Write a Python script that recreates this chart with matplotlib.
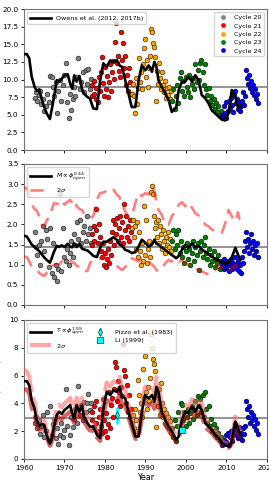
import matplotlib
matplotlib.use("Agg")
import matplotlib.pyplot as plt

# ---- model curves ----
line_years = [1960.0, 1960.7, 1961.3, 1961.9, 1962.6, 1963.1, 1963.8, 1964.4, 1965.0, 1965.6,
              1966.4, 1966.8, 1967.4, 1968.1, 1968.7, 1969.3, 1970.0, 1970.8, 1971.4, 1971.9,
              1972.4, 1973.0, 1973.7, 1974.3, 1974.8, 1975.7, 1976.3, 1977.1, 1978.0, 1978.8,
              1979.6, 1980.4, 1981.3, 1982.1, 1982.9, 1983.6, 1984.2, 1985.0, 1985.8, 1986.6,
              1987.5, 1988.3, 1989.1, 1989.9, 1990.8, 1991.6, 1992.2, 1992.7, 1993.2, 1994.0,
              1994.9, 1995.7, 1996.5, 1997.6, 1998.2, 1999.0, 1999.8, 2000.6, 2001.5, 2002.3,
              2003.1, 2003.9, 2004.8, 2005.6, 2006.4, 2007.2, 2008.1, 2008.9, 2009.7, 2010.5,
              2011.3, 2012.2, 2012.8, 2013.4]

owens_flux = [13.6, 13.6, 13.0, 10.4, 9.0, 8.4, 8.6, 7.1, 6.1, 5.2,
              4.4, 5.6, 7.5, 9.9, 9.7, 10.1, 10.6, 10.75, 9.4, 8.7,
              10.6, 9.7, 10.5, 8.7, 8.0, 7.5, 7.3, 5.9, 5.8, 9.9,
              12.3, 11.8, 12.7, 12.5, 12.75, 12.0, 11.8, 9.9, 8.0, 6.1,
              6.1, 9.9, 12.0, 11.3, 12.0, 11.1, 12.5, 11.8, 9.9, 9.0,
              8.0, 7.1, 5.4, 6.1, 8.5, 9.7, 9.7, 10.4, 9.7, 10.6,
              9.9, 7.8, 7.3, 6.6, 5.6, 5.2, 4.7, 4.3, 4.2, 5.2,
              8.5, 7.5, 6.1, 6.1]

mdot_model = [1.72, 1.70, 1.60, 1.50, 1.44, 1.40, 1.33, 1.26, 1.18, 1.12,
              1.05, 1.15, 1.32, 1.47, 1.44, 1.48, 1.44, 1.52, 1.45, 1.43,
              1.53, 1.44, 1.52, 1.40, 1.38, 1.35, 1.30, 1.22, 1.19, 1.42,
              1.57, 1.57, 1.63, 1.68, 1.62, 1.50, 1.47, 1.37, 1.34, 1.29,
              1.31, 1.45, 1.62, 1.55, 1.45, 1.50, 1.62, 1.52, 1.50, 1.43,
              1.37, 1.30, 1.24, 1.16, 1.22, 1.37, 1.49, 1.42, 1.53, 1.43,
              1.47, 1.38, 1.32, 1.26, 1.20, 1.15, 1.11, 1.06, 1.03, 1.05,
              1.18, 1.42, 1.26, 1.12]

mdot_hi = [2.90, 2.90, 2.76, 2.50, 2.38, 2.35, 2.20, 2.00, 1.95, 2.10,
           2.20, 2.35, 2.53, 2.51, 2.53, 2.61, 2.49, 2.57, 2.61, 2.53,
           2.60, 2.45, 2.38, 2.36, 2.28, 2.20, 2.16, 2.20, 2.61, 2.78,
           2.79, 2.84, 2.79, 2.86, 2.74, 2.68, 2.49, 2.32, 2.16, 2.20,
           2.53, 2.78, 2.70, 2.78, 2.74, 2.94, 2.82, 2.57, 2.36, 2.24,
           1.99, 1.99, 2.20, 2.36, 2.49, 2.55, 2.45, 2.55, 2.41, 2.28,
           2.22, 2.12, 1.99, 1.95, 1.87, 1.83, 1.77, 1.80, 2.03, 2.36,
           2.20, 2.07, 2.30, 2.05]

mdot_lo = [1.20, 1.19, 1.08, 0.95, 0.91, 0.87, 0.79, 0.75, 0.72, 0.80,
           0.87, 0.95, 1.00, 1.02, 1.00, 1.08, 1.12, 1.08, 1.12, 1.04,
           1.05, 0.97, 0.95, 0.89, 0.83, 0.85, 1.04, 1.12, 1.14, 1.16,
           1.20, 1.16, 1.08, 1.04, 0.97, 0.91, 0.87, 0.94, 1.08, 1.16,
           1.12, 1.08, 1.16, 1.12, 1.08, 1.00, 0.94, 0.87, 0.83, 0.91,
           1.04, 1.12, 1.08, 1.16, 1.08, 1.12, 1.04, 1.00, 0.95, 0.91,
           0.87, 0.83, 0.79, 0.75, 0.77, 0.87, 1.00, 0.91, 0.83, 0.80,
           0.90, 1.00, 0.91, 0.83]

torque_model = [5.6, 5.6, 5.3, 4.2, 3.64, 2.8, 2.38, 2.52, 2.45, 1.74,
                1.1, 1.38, 2.33, 3.17, 3.4, 3.24, 3.52, 3.71, 3.88, 3.29,
                2.93, 3.88, 3.4, 3.88, 3.05, 2.57, 2.33, 2.33, 1.74, 1.5,
                3.64, 4.83, 4.6, 4.95, 4.83, 5.19, 4.48, 4.36, 3.4, 2.57,
                1.62, 1.62, 3.4, 4.6, 4.36, 4.6, 4.12, 5.19, 4.83, 3.4,
                2.81, 2.33, 1.98, 1.38, 1.62, 2.81, 3.4, 3.29, 3.76, 3.4,
                3.88, 3.52, 2.57, 2.33, 2.1, 1.74, 1.5, 1.14, 1.02, 0.9,
                1.26, 2.69, 2.21, 1.74]

torque_hi = [6.4, 6.3, 5.9, 4.7, 4.1, 3.2, 2.7, 2.9, 2.8, 2.0,
             1.3, 1.6, 2.7, 3.6, 3.9, 3.7, 4.0, 4.2, 4.4, 3.8,
             3.4, 4.4, 3.9, 4.4, 3.5, 2.9, 2.7, 2.7, 2.0, 1.7,
             4.2, 5.5, 5.2, 5.6, 5.5, 5.9, 5.1, 5.0, 3.9, 2.9,
             1.85, 1.85, 3.9, 5.2, 5.0, 5.2, 4.7, 5.9, 5.5, 3.9,
             3.2, 2.7, 2.25, 1.6, 1.85, 3.2, 3.9, 3.75, 4.3, 3.9,
             4.4, 4.0, 2.9, 2.65, 2.4, 2.0, 1.7, 1.3, 1.15, 1.05,
             1.45, 3.05, 2.5, 2.0]

torque_lo = [5.0, 5.0, 4.7, 3.7, 3.2, 2.5, 2.1, 2.2, 2.15, 1.55,
             0.95, 1.2, 2.05, 2.8, 3.0, 2.85, 3.1, 3.25, 3.4, 2.9,
             2.6, 3.4, 3.0, 3.4, 2.7, 2.25, 2.05, 2.05, 1.55, 1.3,
             3.2, 4.25, 4.05, 4.35, 4.25, 4.55, 3.95, 3.85, 3.0, 2.25,
             1.45, 1.45, 3.0, 4.05, 3.85, 4.05, 3.6, 4.55, 4.25, 3.0,
             2.45, 2.05, 1.75, 1.2, 1.45, 2.45, 3.0, 2.9, 3.3, 3.0,
             3.4, 3.1, 2.25, 2.05, 1.85, 1.55, 1.3, 1.0, 0.9, 0.8,
             1.1, 2.35, 1.95, 1.55]

flux_mean = 8.9
mdot_mean = 1.45
torque_mean = 2.97

# ---- observations per solar cycle ----
cycle_names = ["Cycle 20", "Cycle 21", "Cycle 22", "Cycle 23", "Cycle 24"]
cycle_colors = ["grey", "red", "orange", "green", "blue"]

c20_years = [1962.6, 1962.9, 1963.3, 1963.6, 1964.0, 1964.3, 1964.7, 1965.0, 1965.4, 1965.7,
             1966.1, 1966.4, 1966.8, 1967.1, 1967.5, 1967.8, 1968.2, 1968.5, 1968.9, 1969.2,
             1969.6, 1969.9, 1970.3, 1970.6, 1971.0, 1971.3, 1971.7, 1972.0, 1972.4, 1972.7,
             1973.1, 1973.4, 1973.8, 1974.1, 1974.5, 1974.8, 1975.2, 1975.5, 1975.9, 1976.2, 1976.6]
c20_flux = [7.4, 8.2, 7.0, 7.8, 8.3, 6.5, 7.3, 5.6, 6.2, 7.9,
            6.8, 10.5, 10.4, 8.9, 7.6, 9.6, 5.3, 8.3, 10.0, 7.0,
            9.2, 10.6, 12.3, 6.8, 4.6, 8.0, 5.7, 7.3, 9.0, 7.6,
            10.3, 13.0, 8.6, 9.7, 11.0, 8.2, 11.4, 9.4, 11.5, 8.6, 10.1]
c20_mdot = [1.8, 1.45, 1.25, 1.5, 1.0, 1.6, 1.95, 1.35, 1.85, 1.65,
            0.95, 1.9, 0.8, 1.55, 0.7, 1.0, 0.6, 0.9, 2.75, 0.85,
            1.9, 1.2, 1.1, 1.4, 1.0, 1.3, 1.6, 1.2, 1.75, 1.5,
            2.05, 1.65, 2.1, 1.55, 1.8, 1.95, 1.6, 2.2, 1.75, 1.9, 1.55]
c20_torque = [2.6, 3.0, 2.2, 2.8, 1.8, 2.4, 3.2, 1.6, 2.0, 3.4,
              1.4, 3.8, 1.7, 2.5, 2.9, 1.5, 2.2, 1.1, 1.7, 2.6,
              1.6, 2.1, 5.0, 2.4, 1.0, 1.7, 3.0, 2.3, 2.9, 3.6,
              2.6, 5.25, 3.2, 3.9, 2.8, 4.1, 3.4, 4.0, 4.65, 3.5, 4.0]

c21_years = [1976.7, 1976.9, 1977.2, 1977.4, 1977.7, 1977.9, 1978.2, 1978.4, 1978.7, 1978.9,
             1979.2, 1979.4, 1979.7, 1979.9, 1980.2, 1980.4, 1980.7, 1980.9, 1981.2, 1981.4,
             1981.7, 1981.9, 1982.2, 1982.4, 1982.7, 1982.9, 1983.2, 1983.4, 1983.7, 1983.9,
             1984.2, 1984.4, 1984.7, 1984.9, 1985.2, 1985.4, 1985.7, 1985.9, 1986.2, 1986.4]
c21_flux = [7.6, 9.2, 8.0, 9.8, 7.3, 8.8, 6.8, 10.3, 8.4, 11.0,
            13.2, 9.5, 7.7, 11.8, 8.6, 10.5, 7.5, 9.7, 12.2, 8.3,
            11.0, 12.6, 10.1, 15.3, 18.0, 12.4, 13.4, 11.2, 10.4, 16.8,
            12.8, 15.2, 11.6, 13.4, 9.2, 10.6, 8.4, 11.6, 9.6, 8.0]
c21_mdot = [1.75, 1.5, 1.95, 1.6, 1.85, 2.38, 1.55, 2.0, 1.7, 1.35,
            1.2, 1.55, 1.0, 1.3, 0.95, 1.15, 1.4, 1.05, 1.6, 1.25,
            1.8, 2.1, 1.5, 2.0, 1.75, 2.15, 1.6, 1.9, 2.2, 1.7,
            2.05, 1.55, 2.5, 1.85, 2.2, 1.7, 1.95, 1.6, 2.1, 1.8]
c21_torque = [2.8, 3.4, 2.3, 3.8, 2.6, 4.2, 2.0, 3.0, 3.6, 2.4,
              1.9, 4.3, 2.8, 2.0, 3.3, 1.6, 2.5, 4.8, 2.2, 3.9,
              4.4, 3.0, 5.0, 7.0, 6.6, 4.2, 5.6, 4.8, 3.8, 5.2,
              4.5, 8.3, 6.4, 6.0, 4.0, 5.3, 3.4, 4.6, 3.0, 3.6]

c22_years = [1986.6, 1986.9, 1987.1, 1987.4, 1987.6, 1987.9, 1988.1, 1988.4, 1988.6, 1988.9,
             1989.1, 1989.4, 1989.6, 1989.9, 1990.1, 1990.4, 1990.6, 1990.9, 1991.1, 1991.4,
             1991.6, 1991.9, 1992.1, 1992.4, 1992.6, 1992.9, 1993.1, 1993.4, 1993.6, 1993.9,
             1994.1, 1994.4, 1994.6, 1994.9, 1995.1, 1995.4, 1995.6, 1995.9, 1996.1, 1996.4]
c22_flux = [8.0, 9.4, 7.6, 5.3, 10.2, 6.5, 8.8, 13.0, 9.6, 11.0,
            8.6, 12.2, 14.4, 15.8, 10.4, 12.8, 9.0, 11.6, 13.4, 17.2,
            16.8, 15.2, 14.6, 13.2, 7.0, 11.2, 9.4, 12.4, 10.2, 8.6,
            11.0, 9.2, 8.2, 9.8, 7.4, 8.8, 7.8, 9.0, 7.2, 8.4]
c22_mdot = [1.9, 2.1, 1.7, 1.95, 1.4, 2.05, 1.2, 1.8, 1.35, 1.0,
            1.55, 1.1, 2.45, 1.25, 2.1, 1.05, 1.4, 1.6, 1.2, 2.8,
            2.95, 2.75, 2.2, 1.9, 2.05, 1.7, 2.1, 1.55, 1.95, 1.75,
            1.4, 1.85, 1.6, 1.3, 1.7, 1.5, 1.8, 1.45, 1.65, 1.35]
c22_torque = [2.6, 3.2, 2.2, 3.6, 2.8, 2.0, 5.7, 4.6, 3.4, 4.0,
              3.0, 6.5, 4.4, 7.4, 4.8, 3.6, 5.2, 4.2, 5.8, 9.0,
              8.0, 7.2, 6.8, 6.3, 2.3, 4.6, 3.8, 5.0, 3.2, 5.5,
              4.0, 3.0, 3.6, 2.6, 3.3, 2.4, 3.0, 2.2, 2.7, 1.9]

c23_years = [1996.6, 1996.9, 1997.2, 1997.5, 1997.8, 1998.1, 1998.4, 1998.7, 1999.0, 1999.3,
             1999.6, 1999.9, 2000.2, 2000.5, 2000.8, 2001.1, 2001.4, 2001.7, 2002.0, 2002.3,
             2002.6, 2002.9, 2003.2, 2003.5, 2003.8, 2004.1, 2004.4, 2004.7, 2005.0, 2005.3,
             2005.6, 2005.9, 2006.2, 2006.5, 2006.8, 2007.1, 2007.4, 2007.7, 2008.0, 2008.3,
             2008.6, 2008.9]
c23_flux = [7.0, 8.6, 5.8, 7.6, 9.2, 6.6, 10.2, 11.0, 8.4, 9.8,
            7.6, 10.4, 9.0, 8.2, 10.6, 7.5, 9.4, 10.2, 8.6, 12.2,
            9.6, 11.4, 10.0, 12.4, 12.8, 11.0, 9.2, 12.2, 8.6, 7.8,
            8.8, 7.0, 7.6, 6.4, 7.2, 5.8, 6.6, 5.4, 6.2, 5.0,
            5.6, 4.8]
c23_mdot = [1.6, 1.85, 1.4, 1.75, 1.5, 1.85, 1.3, 1.6, 1.2, 1.45,
            1.05, 1.35, 1.55, 1.15, 1.4, 1.0, 1.3, 1.6, 1.1, 1.45,
            1.25, 1.55, 0.87, 1.35, 1.6, 1.2, 1.5, 1.7, 1.3, 1.15,
            1.4, 1.0, 1.25, 1.1, 1.35, 0.95, 1.15, 1.05, 1.25, 0.9,
            1.1, 0.95]
c23_torque = [2.2, 1.6, 2.8, 1.3, 2.4, 3.4, 2.0, 4.0, 3.9, 2.8,
              3.4, 2.4, 3.0, 3.6, 2.6, 3.3, 3.8, 2.9, 3.5, 4.2,
              3.2, 4.5, 3.8, 4.3, 3.4, 4.6, 3.0, 4.8, 3.6, 2.6,
              3.8, 2.4, 2.9, 2.0, 2.5, 1.8, 2.2, 1.6, 1.9, 1.4,
              1.6, 1.2]

c24_years = [2009.0, 2009.3, 2009.5, 2009.8, 2010.0, 2010.3, 2010.5, 2010.8, 2011.0, 2011.3,
             2011.5, 2011.8, 2012.0, 2012.3, 2012.5, 2012.8, 2013.0, 2013.3, 2013.5, 2013.8,
             2014.0, 2014.3, 2014.5, 2014.8, 2015.0, 2015.3, 2015.5, 2015.8, 2016.0, 2016.3,
             2016.5, 2016.8, 2017.0, 2017.3, 2017.5, 2017.8]
c24_flux = [4.8, 6.2, 5.2, 4.5, 6.8, 5.6, 7.0, 6.0, 7.4, 6.4,
            5.4, 7.8, 8.4, 6.6, 7.2, 5.8, 6.8, 5.6, 6.2, 7.0,
            8.2, 6.4, 7.6, 11.4, 10.2, 9.4, 10.6, 8.8, 9.8, 8.2,
            9.2, 7.8, 8.6, 7.2, 8.0, 6.6]
c24_mdot = [1.0, 1.15, 0.9, 1.05, 0.95, 1.1, 0.85, 1.0, 1.15, 0.9,
            1.05, 0.95, 1.2, 1.0, 0.9, 1.1, 0.85, 1.0, 0.8, 1.2,
            1.05, 1.35, 1.6, 1.8, 1.45, 1.65, 1.3, 1.55, 1.75, 1.4,
            1.6, 1.25, 1.5, 1.35, 1.55, 1.2]
c24_torque = [1.0, 1.4, 1.1, 1.7, 1.2, 1.9, 1.0, 1.6, 2.0, 1.3,
              1.8, 2.2, 2.5, 1.7, 2.1, 1.5, 2.3, 1.6, 1.9, 1.4,
              2.2, 1.8, 2.4, 4.2, 3.6, 3.0, 3.8, 2.6, 3.4, 2.8,
              3.2, 2.4, 2.9, 2.1, 2.6, 1.8]

cycle_years = [c20_years, c21_years, c22_years, c23_years, c24_years]
cycle_flux = [c20_flux, c21_flux, c22_flux, c23_flux, c24_flux]
cycle_mdot = [c20_mdot, c21_mdot, c22_mdot, c23_mdot, c24_mdot]
cycle_torque = [c20_torque, c21_torque, c22_torque, c23_torque, c24_torque]

# in-situ torque estimates
pizzo_year, pizzo_val, pizzo_err = 1983.0, 3.15, 0.6
li_year, li_val = 1999.0, 2.1

fs = 5.2
lfs = 4.6
plt.rcParams['font.family'] = 'DejaVu Sans'

fig = plt.figure(figsize=(2.69, 4.92), dpi=100)
ax1 = fig.add_axes([0.0892, 0.6951, 0.9033, 0.2866])
ax2 = fig.add_axes([0.0892, 0.3801, 0.9033, 0.2866])
ax3 = fig.add_axes([0.0892, 0.0671, 0.9033, 0.2825])

def scatter_cycles(ax, vals):
    for yrs, v, c, n in zip(cycle_years, vals, cycle_colors, cycle_names):
        ax.scatter(yrs, v, s=12, c=c, edgecolors='k', linewidths=0.35, zorder=2, label=n)

# panel 1: open flux
scatter_cycles(ax1, cycle_flux)
ax1.axhline(flux_mean, color='grey', lw=1.2, zorder=1)
l1, = ax1.plot(line_years, owens_flux, color='k', lw=1.9, zorder=3, label='Owens et al. (2012, 2017b)')
leg1 = ax1.legend(handles=[l1], loc='upper left', fontsize=lfs, handlelength=3.2,
                  borderpad=0.5, handletextpad=0.8)
ax1.add_artist(leg1)
ax1.legend(handles=[plt.Line2D([], [], ls='', marker='o', ms=2.4, color=c) for c in cycle_colors],
           labels=cycle_names, loc='upper right', fontsize=lfs, handletextpad=0.6,
           labelspacing=0.45, borderpad=0.4)
ax1.set_ylim(0, 20)
ax1.set_yticks([0, 2.5, 5, 7.5, 10, 12.5, 15, 17.5, 20])
ax1.set_yticklabels(['0.0', '2.5', '5.0', '7.5', '10.0', '12.5', '15.0', '17.5', '20.0'])
# the reference is cropped on the left: the panel labels sit just outside the canvas
ax1.set_ylabel(r'$\phi_{open}$ ($10^{22}$Mx)', fontsize=fs, labelpad=14)

# panel 2: mass loss rate
scatter_cycles(ax2, cycle_mdot)
ax2.axhline(mdot_mean, color='grey', lw=1.2, zorder=1)
m1, = ax2.plot(line_years, mdot_model, color='k', lw=1.9, zorder=4,
               label=r'$\dot{M}\propto\phi_{open}^{0.44}$')
m2, = ax2.plot(line_years, mdot_hi, color='red', alpha=0.5, lw=1.9, ls=(0, (5, 3)), zorder=3, label=r'$2\sigma$')
ax2.plot(line_years, mdot_lo, color='red', alpha=0.5, lw=1.9, ls=(0, (5, 3)), zorder=3)
ax2.legend(handles=[m1, m2], loc='upper left', fontsize=lfs, handlelength=3.2, borderpad=0.5)
ax2.set_ylim(0, 3.5)
ax2.set_yticks([0, 0.5, 1, 1.5, 2, 2.5, 3, 3.5])
ax2.set_yticklabels(['0.0', '0.5', '1.0', '1.5', '2.0', '2.5', '3.0', '3.5'])
ax2.set_ylabel(r'$\dot{M}$ ($10^{12}$g/s)', fontsize=fs, labelpad=14)

# panel 3: torque
scatter_cycles(ax3, cycle_torque)
ax3.axhline(torque_mean, color='grey', lw=1.2, zorder=1)
t2, = ax3.plot(line_years, torque_hi, color='#ff6060', alpha=0.55, lw=3.0, ls=(0, (6, 1.2)), zorder=3, label=r'$2\sigma$')
ax3.plot(line_years, torque_lo, color='#c00000', alpha=0.6, lw=3.0, ls=(0, (6, 1.2)), zorder=3)
t1, = ax3.plot(line_years, torque_model, color='k', lw=1.9, zorder=4,
               label=r'T$\propto\phi_{open}^{1.59}$')
pz = ax3.errorbar([pizzo_year], [pizzo_val], yerr=[pizzo_err], fmt='d', color='cyan', ms=4,
                  mec='k', mew=0.4, elinewidth=2, zorder=5, label='Pizzo et al. (1983)')
li, = ax3.plot([li_year], [li_val], 's', color='cyan', ms=4.5, mec='k', mew=0.4, zorder=5, label='Li (1999)')
ax3.legend(handles=[t1, t2, pz, li], loc='upper left', ncol=2, fontsize=lfs, handlelength=3.2,
           columnspacing=0.9, borderpad=0.5)
ax3.set_ylim(0, 10)
ax3.set_yticks([0, 2, 4, 6, 8, 10])
ax3.set_ylabel(r'Torque ($10^{30}$erg)', fontsize=fs, labelpad=3)
ax3.set_xlabel('Year', fontsize=fs + 0.6, labelpad=2)

for ax in (ax1, ax2, ax3):
    ax.set_xlim(1960, 2020)
    ax.set_xticks([1960, 1970, 1980, 1990, 2000, 2010, 2020])
    ax.tick_params(labelsize=fs, length=2.5, width=0.6, pad=1.5)
    for s in ax.spines.values():
        s.set_color('0.45')
        s.set_linewidth(0.8)
ax1.set_xticklabels([])
ax2.set_xticklabels([])

fig.savefig('out.png', dpi=100)
